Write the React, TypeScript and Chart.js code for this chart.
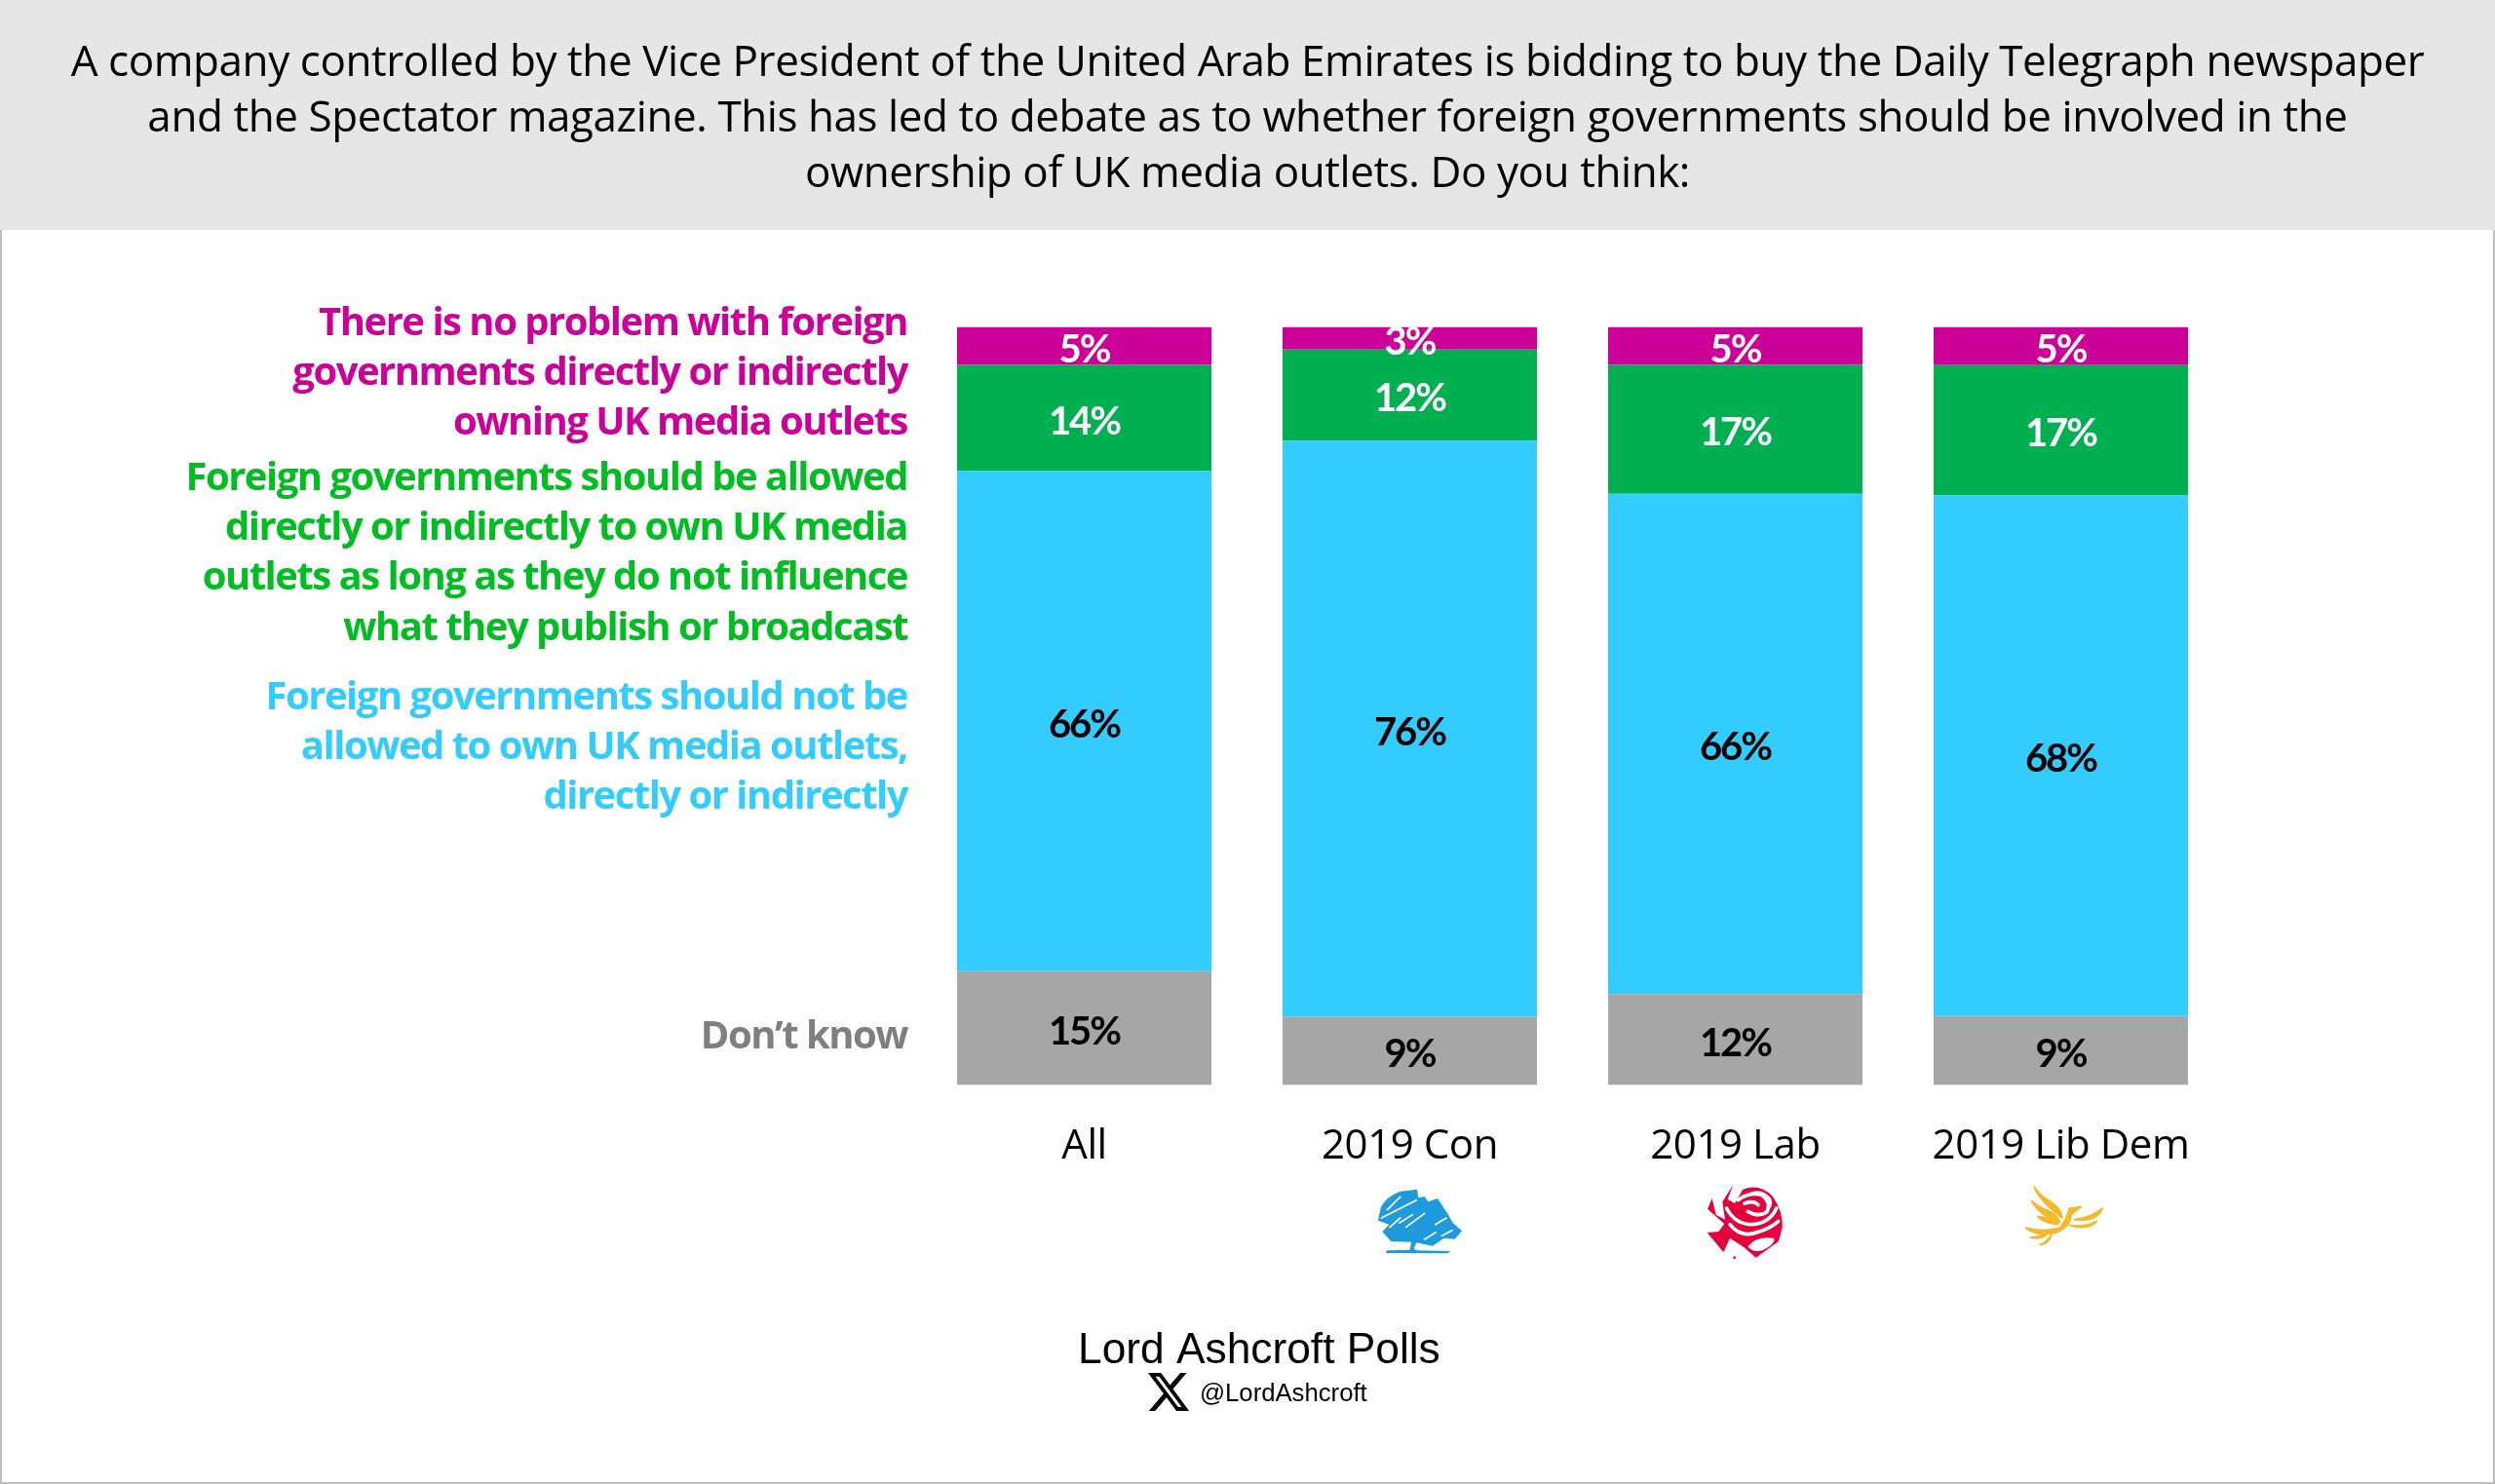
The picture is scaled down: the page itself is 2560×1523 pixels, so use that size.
import React, { useEffect, useRef } from "react";
import { Chart, registerables } from "chart.js";

Chart.register(...registerables);

const categories = ["All", "2019 Con", "2019 Lab", "2019 Lib Dem"];
const noProblem = [5, 3, 5, 5];
const allowedIfNoInfluence = [14, 12, 17, 17];
const notAllowed = [66, 76, 66, 68];
const dontKnow = [15, 9, 12, 9];

const questionLines = [
  "A company controlled by the Vice President of the United Arab Emirates is bidding to buy the Daily Telegraph newspaper",
  "and the Spectator magazine. This has led to debate as to whether foreign governments should be involved in the",
  "ownership of UK media outlets. Do you think:",
];

const noProblemLines = ["There is no problem with foreign", "governments directly or indirectly", "owning UK media outlets"];
const allowedLines = [
  "Foreign governments should be allowed",
  "directly or indirectly to own UK media",
  "outlets as long as they do not influence",
  "what they publish or broadcast",
];
const notAllowedLines = ["Foreign governments should not be", "allowed to own UK media outlets,", "directly or indirectly"];
const dontKnowLines = ["Don\u2019t know"];

const footerTitle = "Lord Ashcroft Polls";
const footerHandle = "@LordAshcroft";

const PURPLE = "#CC0099";
const GREEN = "#00B050";
const BLUE = "#33CCFF";
const GREY = "#A6A6A6";

// Each column is drawn as shares of its own total, so every bar fills the full height.
const shareOf = (series: number[]) =>
  series.map((v, i) => (v / (noProblem[i] + allowedIfNoInfluence[i] + notAllowed[i] + dontKnow[i])) * 100);

const X_LOGO = "M18.244 2.25h3.308l-7.227 8.26 8.502 11.24H16.17l-5.214-6.817L4.99 21.75H1.68l7.73-8.835L1.254 2.25H8.08l4.713 6.231zm-1.161 17.52h1.833L7.084 4.126H5.117z";

function drawTree(ctx: CanvasRenderingContext2D) {
  ctx.save();
  ctx.translate(1390, 1200);
  ctx.scale(1 / 3, 1 / 3);
  ctx.fillStyle = "#1E9BDD";
  ctx.fill(new Path2D("M72 158 L80 118 Q95 85 140 68 L192 62 L196 88 L215 84 L226 100 L255 90 L285 135 L302 165 L330 190 L308 215 L275 212 L240 236 L190 226 L182 244 L190 250 L295 252 L285 259 L95 258 L100 250 L170 248 L174 224 L112 222 L85 192 L106 170 Z"));
  ctx.strokeStyle = "#FFFFFF";
  ctx.lineCap = "round";
  ctx.lineWidth = 5;
  [[100, 125, 140, 85], [82, 150, 190, 95], [138, 165, 178, 140], [158, 178, 215, 136], [215, 216, 250, 194], [248, 170, 282, 150], [268, 205, 300, 188], [108, 178, 140, 150]].forEach(([a, b, c, d]) => {
    ctx.beginPath();
    ctx.moveTo(a, b);
    ctx.lineTo(c, d);
    ctx.stroke();
  });
  ctx.restore();
}

function drawRose(ctx: CanvasRenderingContext2D) {
  ctx.save();
  ctx.translate(1730, 1200);
  ctx.scale(1 / 3, 1 / 3);
  ctx.fillStyle = "#E4003B";
  ctx.fill(new Path2D("M145 48 L128 92 L150 105 L175 62 Q225 42 265 82 Q300 130 296 180 L285 222 L215 272 L178 240 L135 212 L115 255 L65 195 L100 192 L118 168 L66 122 L80 90 L92 140 L120 155 L112 100 Z"));
  ctx.strokeStyle = "#FFFFFF";
  ctx.lineCap = "round";
  ctx.lineJoin = "round";
  ctx.lineWidth = 11;
  ctx.stroke(new Path2D("M160 95 Q190 70 232 78 Q262 100 250 130 Q225 150 190 130 M180 105 Q210 95 222 110 M125 120 Q150 170 205 170 Q258 165 278 120 M135 170 Q170 215 225 192 Q262 180 284 160"));
  ctx.fillStyle = "#FFFFFF";
  ctx.fill(new Path2D("M190 238 Q215 205 270 212 Q278 228 235 250 Q205 258 190 238 Z"));
  ctx.fill(new Path2D("M88 90 Q115 125 112 150 L92 135 Z"));
  ctx.fill(new Path2D("M195 72 Q235 55 262 90 Q270 110 255 125 Q262 85 225 72 Z"));
  ctx.fillStyle = "#E4003B";
  ctx.beginPath();
  ctx.arc(149, 272, 4, 0, Math.PI * 2);
  ctx.fill();
  ctx.restore();
}

function drawBird(ctx: CanvasRenderingContext2D) {
  ctx.save();
  ctx.translate(2060, 1200);
  ctx.scale(1 / 3, 1 / 3);
  ctx.fillStyle = "#F4B82C";
  ctx.strokeStyle = "#F4B82C";
  ctx.lineWidth = 5;
  ctx.lineJoin = "round";
  [
    "M82 54 Q95 95 168 150 Q165 118 125 95 Q95 78 82 54 Z",
    "M74 97 Q90 135 160 165 Q158 145 125 127 Q95 117 74 97 Z",
    "M92 145 Q110 165 155 170 Q150 160 130 152 Q110 148 92 145 Z",
    "M55 180 Q110 195 160 180 Q180 160 190 120 L226 116 L195 140 Q195 175 150 195 Q90 208 55 180 Z",
    "M205 155 Q255 150 292 120 Q275 165 205 155 Z",
    "M190 172 Q235 180 275 160 Q245 190 190 172 Z",
    "M70 210 Q100 208 125 196 Q105 220 70 210 Z",
    "M98 233 Q125 222 135 198 Q130 230 98 233 Z",
  ].forEach((p) => {
    const path = new Path2D(p);
    ctx.fill(path);
    ctx.stroke(path);
  });
  ctx.restore();
}

function drawRightAligned(ctx: CanvasRenderingContext2D, lines: string[], baselines: number[], color: string) {
  ctx.fillStyle = color;
  lines.forEach((line, i) => ctx.fillText(line, 931, baselines[i]));
}

const pageDecor = {
  id: "pageDecor",
  beforeDraw(chart: any) {
    const { ctx } = chart;
    ctx.save();
    ctx.fillStyle = "#FFFFFF";
    ctx.fillRect(0, 0, 2560, 1523);
    ctx.fillStyle = "#E7E6E6";
    ctx.fillRect(0, 0, 2560, 236);
    ctx.strokeStyle = "#BFBFBF";
    ctx.lineWidth = 2;
    ctx.beginPath();
    ctx.moveTo(1, 236);
    ctx.lineTo(1, 1522);
    ctx.lineTo(2559, 1522);
    ctx.lineTo(2559, 236);
    ctx.stroke();
    ctx.restore();
    ctx.letterSpacing = "-0.43px";
  },
  afterDraw(chart: any) {
    const { ctx } = chart;
    ctx.save();
    ctx.letterSpacing = "-1.5px";
    ctx.font = "700 40px 'Open Sans'";
    ctx.textAlign = "right";
    ctx.textBaseline = "alphabetic";
    drawRightAligned(ctx, noProblemLines, [344, 395, 446], PURPLE);
    drawRightAligned(ctx, allowedLines, [503, 554, 605, 657], "#00BD21");
    drawRightAligned(ctx, notAllowedLines, [728, 779, 830], BLUE);
    drawRightAligned(ctx, dontKnowLines, [1076], "#7F7F7F");

    ctx.letterSpacing = "0px";
    ctx.fillStyle = "#000000";
    ctx.textAlign = "left";
    ctx.font = "44.3px 'Liberation Sans'";
    ctx.fillText(footerTitle, 1106, 1399);
    ctx.font = "25.7px 'Liberation Sans'";
    ctx.fillText(footerHandle, 1231, 1438);
    ctx.translate(1178 - 1.254 * 1.95, 1409 - 2.25 * 2);
    ctx.scale(1.95, 2);
    ctx.fill(new Path2D(X_LOGO));
    ctx.restore();

    drawTree(ctx);
    drawRose(ctx);
    drawBird(ctx);
  },
};

const valueLabels = {
  id: "valueLabels",
  afterDatasetsDraw(chart: any) {
    const { ctx } = chart;
    const sources = [dontKnow, notAllowed, allowedIfNoInfluence, noProblem];
    const colors = ["#000000", "#000000", "#FFFFFF", "#FFFFFF"];
    ctx.save();
    ctx.letterSpacing = "-2px";
    ctx.font = "700 40px Lato";
    ctx.textAlign = "center";
    ctx.textBaseline = "middle";
    sources.forEach((values, d) => {
      ctx.fillStyle = colors[d];
      chart.getDatasetMeta(d).data.forEach((bar: any, i: number) => {
        ctx.fillText(`${values[i]}%`, bar.x, (bar.y + bar.base) / 2 + 4);
      });
    });
    ctx.restore();
  },
};

export default function App() {
  const ref = useRef<HTMLCanvasElement>(null);
  useEffect(() => {
    document.body.style.margin = "0";
    const chart = new Chart(ref.current as HTMLCanvasElement, {
      type: "bar",
      data: {
        labels: categories,
        datasets: [
          { label: dontKnowLines.join(" "), data: shareOf(dontKnow), backgroundColor: GREY },
          { label: notAllowedLines.join(" "), data: shareOf(notAllowed), backgroundColor: BLUE },
          { label: allowedLines.join(" "), data: shareOf(allowedIfNoInfluence), backgroundColor: GREEN },
          { label: noProblemLines.join(" "), data: shareOf(noProblem), backgroundColor: PURPLE },
        ],
      },
      options: {
        animation: false,
        responsive: false,
        devicePixelRatio: 1,
        layout: { padding: { top: 0, left: 0, right: 0, bottom: 309.5 } },
        datasets: { bar: { categoryPercentage: 1, barPercentage: 261 / 334, borderWidth: 0 } },
        plugins: {
          legend: { display: false },
          tooltip: { enabled: false },
          title: {
            display: true,
            text: questionLines,
            color: "#000000",
            font: { family: "'Open Sans'", size: 44, weight: "400", lineHeight: "57px" },
            padding: { top: 37, bottom: 127.5 },
          },
        },
        scales: {
          x: {
            stacked: true,
            grid: { display: false },
            border: { display: false },
            ticks: { color: "#000000", font: { family: "'Open Sans'", size: 42 }, padding: 30, maxRotation: 0 },
            afterFit: (s: any) => { s.height = 100; },
          },
          y: {
            stacked: true,
            min: 0,
            max: 100,
            grid: { display: false },
            border: { display: false },
            ticks: { display: false },
            afterFit: (s: any) => { s.width = 945.5; },
          },
          yRight: {
            position: "right",
            display: true,
            grid: { display: false },
            border: { display: false },
            ticks: { display: false },
            afterFit: (s: any) => { s.width = 278.5; },
          },
        },
      } as any,
      plugins: [pageDecor, valueLabels],
    });
    return () => chart.destroy();
  }, []);
  return <canvas ref={ref} width={2560} height={1523} style={{ display: "block" }} />;
}
